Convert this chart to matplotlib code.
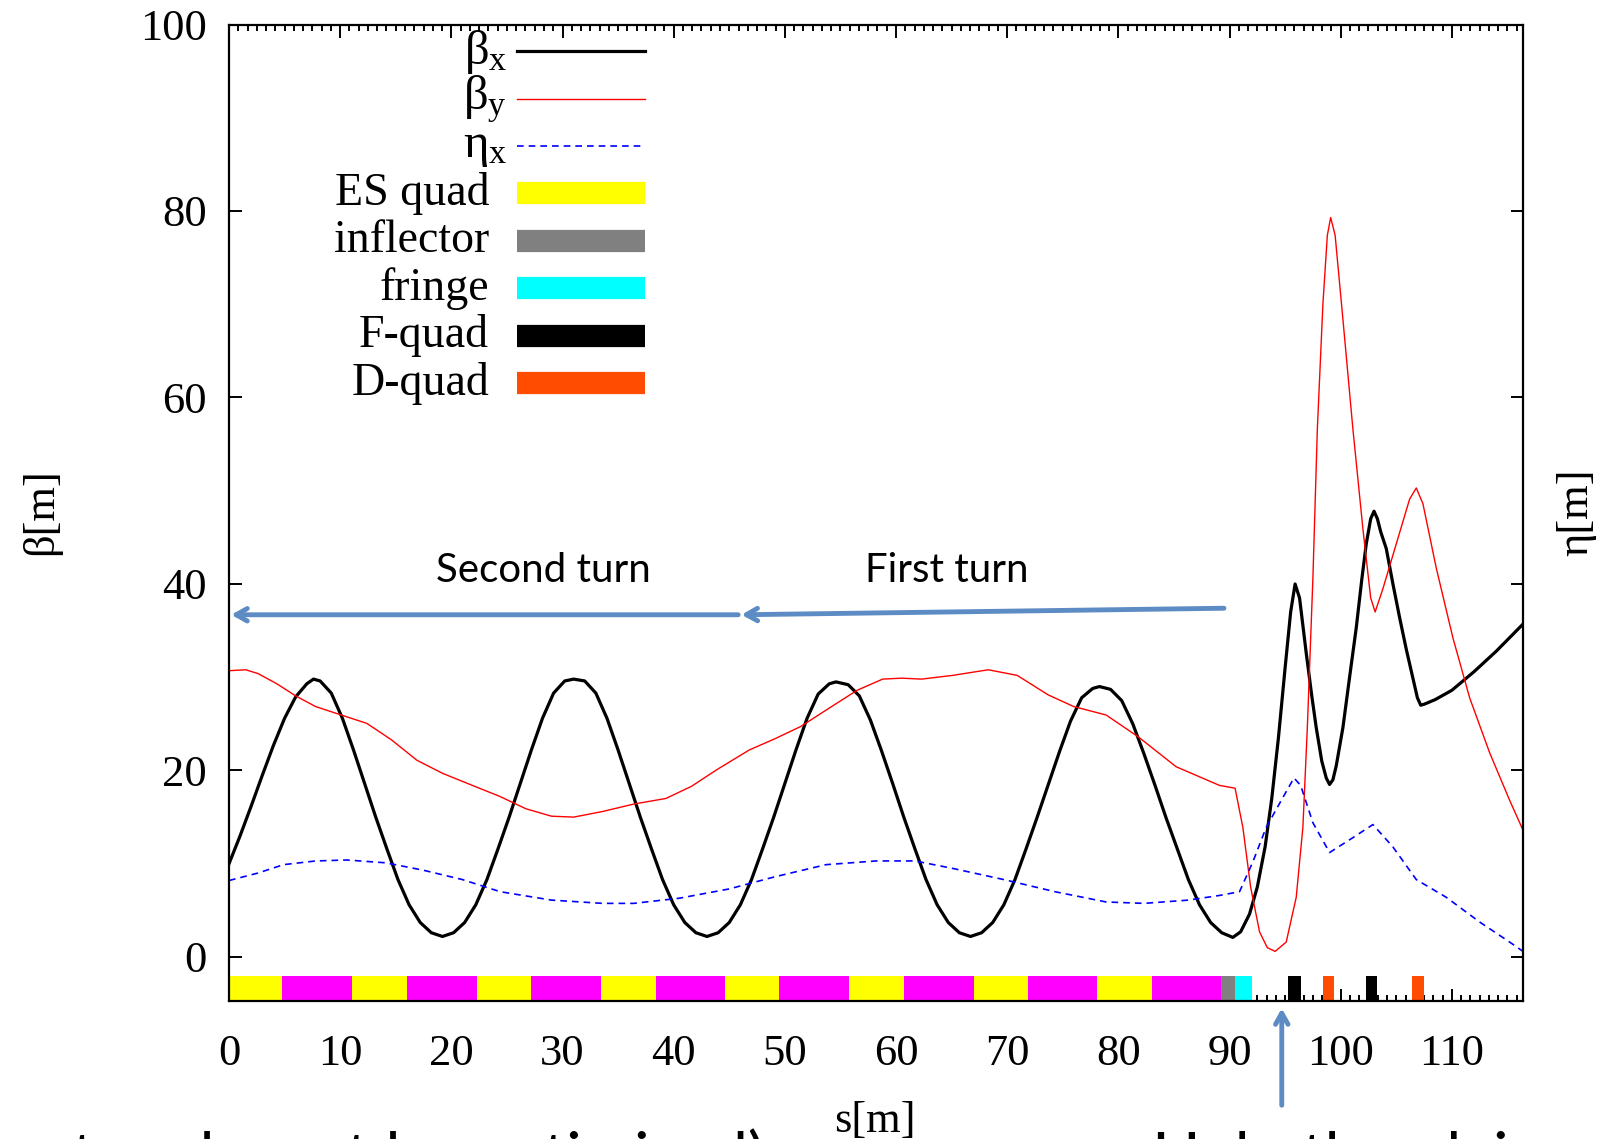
import matplotlib
matplotlib.use("Agg")
import matplotlib.pyplot as plt
from matplotlib.ticker import MultipleLocator, AutoMinorLocator

plt.rcParams['font.family'] = ['Liberation Serif', 'DejaVu Serif']
plt.rcParams['mathtext.fontset'] = 'custom'
plt.rcParams['mathtext.rm'] = 'Liberation Serif'
plt.rcParams['mathtext.it'] = 'Liberation Serif'

# ---- optics ----
bx_s = [0, 1, 2, 3, 4, 5, 6, 7, 7.6, 8.2, 9.2, 10.2, 11.2, 12.2, 13.2, 14.2, 15.2, 16.2, 17.2, 18.2, 19.2,
        20.2, 21.2, 22.2, 23.2, 24.2, 25.2, 26.2, 27.2, 28.2, 29.2, 30.2, 31.0,
        32, 33, 34, 35, 36, 37, 38, 39, 40, 41, 42, 43,
        44, 45, 46, 47, 48, 49, 50, 51, 52, 53, 54.0, 54.6,
        55.7, 56.7, 57.7, 58.7, 59.7, 60.7, 61.7, 62.7, 63.7, 64.7, 65.7, 66.7,
        67.7, 68.7, 69.7, 70.7, 71.7, 72.7, 73.7, 74.7, 75.7, 76.7, 77.7, 78.3,
        79.3, 80.3, 81.3, 82.3, 83.3, 84.3, 85.3, 86.3, 87.3, 88.3, 89.3, 90.3,
        91.0, 91.8, 92.5, 93.2, 93.8, 94.4, 95.0, 95.5, 95.9, 96.3, 96.9, 97.4, 97.8, 98.3, 98.7, 99.0,
        99.3, 99.6, 100.2, 100.8, 101.4, 101.9, 102.3, 102.7, 103.0, 103.3, 103.6, 104.1, 104.7,
        105.3, 105.9, 106.5, 106.9, 107.2, 107.5, 108.5, 110, 112, 114, 116.4]
beta_x = [10.0, 13.0, 16.2, 19.5, 22.7, 25.6, 27.9, 29.3, 29.8, 29.6, 28.3, 25.6, 22.2, 18.6, 15.0, 11.6, 8.3, 5.6, 3.7, 2.6, 2.2,
          2.6, 3.7, 5.6, 8.3, 11.6, 15.0, 18.6, 22.2, 25.6, 28.3, 29.6, 29.8,
          29.6, 28.3, 25.6, 22.2, 18.6, 15.0, 11.6, 8.3, 5.6, 3.7, 2.6, 2.2,
          2.6, 3.7, 5.6, 8.3, 11.6, 15.0, 18.6, 22.2, 25.6, 28.2, 29.3, 29.5,
          29.2, 28.0, 25.4, 22.1, 18.6, 15.0, 11.6, 8.3, 5.6, 3.7, 2.6, 2.2,
          2.6, 3.7, 5.6, 8.3, 11.6, 15.0, 18.5, 22.0, 25.3, 27.8, 28.8, 29.0,
          28.7, 27.5, 25.0, 21.8, 18.4, 14.9, 11.6, 8.3, 5.6, 3.7, 2.6, 2.1,
          2.7, 4.6, 7.5, 11.8, 17.0, 23.5, 31.0, 37.0, 40.0, 38.5, 32.6, 28.0, 24.6, 21.0, 19.2, 18.5,
          19.0, 20.5, 24.6, 30.0, 35.3, 40.5, 44.3, 47.0, 47.8, 47.0, 45.6, 43.8, 40.0,
          36.4, 33.0, 29.9, 27.8, 27.0, 27.1, 27.6, 28.6, 30.6, 32.8, 35.7]

by_s = [0, 1.5, 2.6, 4.3, 6.0, 7.8, 10.1, 12.4, 14.6, 16.9, 19.2, 22.1, 24.4, 26.7, 29.0, 31.0, 33.6, 36.4,
        39.3, 41.6, 43.9, 46.8, 49.1, 51.4, 54.2, 56.5, 58.8, 60.5, 62.3, 65.1, 68.3, 70.9, 73.7, 76.0,
        78.9, 81.8, 85.2, 89.1, 90.5, 91.2, 91.9, 92.7, 93.4, 94.1, 95.1, 96.0, 96.6, 97.0, 97.5, 97.9,
        98.4, 98.8, 99.1, 99.5, 100.2, 101.1, 102.0, 102.7, 103.1, 103.8, 105.0, 106.2, 106.8, 107.4,
        108.6, 110.1, 111.6, 113.4, 115.2, 116.4]
beta_y = [30.7, 30.8, 30.4, 29.3, 28.0, 26.85, 25.95, 25.05, 23.3, 21.1, 19.7, 18.3, 17.2, 15.9, 15.1, 15.0, 15.6, 16.4,
          17.0, 18.3, 20.1, 22.2, 23.4, 24.7, 26.85, 28.6, 29.8, 29.9, 29.8, 30.2, 30.8, 30.2, 28.1, 26.85,
          25.95, 23.6, 20.4, 18.4, 18.1, 13.9, 7.5, 2.7, 1.0, 0.6, 1.6, 6.4, 13.9, 24.6, 40.6, 56.6,
          70.0, 77.4, 79.3, 77.4, 68.4, 56.6, 45.9, 38.5, 37.0, 39.5, 44.3, 49.1, 50.3, 48.6,
          41.7, 34.2, 27.8, 21.9, 16.8, 13.6]

eta_s = [0, 2.6, 4.9, 7.8, 10.6, 14.1, 17.5, 21.0, 24.4, 29.0, 33.6, 36.4, 40.5, 45.0, 49.1, 53.7, 58.2,
         61.7, 65.1, 69.7, 74.3, 78.9, 82.3, 86.3, 89.1, 90.9, 92.1, 93.3, 94.8, 95.8, 96.4, 97.5, 99.0,
         101.1, 102.9, 104.7, 106.8, 109.5, 112.5, 115.2, 116.4]
eta_x = [8.2, 9.0, 9.9, 10.3, 10.4, 10.1, 9.3, 8.3, 7.0, 6.1, 5.75, 5.75, 6.3, 7.3, 8.6, 9.9, 10.3,
         10.3, 9.5, 8.3, 7.0, 5.9, 5.75, 6.1, 6.6, 7.0, 10.2, 13.9, 17.1, 19.2, 18.4, 14.4, 11.2,
         12.8, 14.2, 11.8, 8.3, 6.4, 3.75, 1.6, 0.6]

# ---- lattice elements ----
elem_start = [0, 4.8, 11.1, 16.0, 22.3, 27.2, 33.5, 38.4, 44.65, 49.5, 55.8, 60.7, 67.0, 71.85, 78.1, 83.0,
              89.2, 90.5, 95.3, 98.4, 102.3, 106.4]
elem_end = [4.8, 11.1, 16.0, 22.3, 27.2, 33.5, 38.4, 44.65, 49.5, 55.8, 60.7, 67.0, 71.85, 78.1, 83.0, 89.2,
            90.5, 92.0, 96.4, 99.4, 103.3, 107.5]
elem_type = ['ES quad', 'bend'] * 8 + ['inflector', 'fringe', 'F-quad', 'D-quad', 'F-quad', 'D-quad']
legend_elems = ['ES quad', 'inflector', 'fringe', 'F-quad', 'D-quad']

elem_color = {'ES quad': '#FFFF00', 'bend': '#FF00FF', 'inflector': '#808080',
              'fringe': '#00FFFF', 'F-quad': '#000000', 'D-quad': '#FF4C00'}

ymin, ymax = -4.72, 100
bar_top = -2.0

fig = plt.figure(figsize=(16.05, 11.39), dpi=100)
ax = fig.add_axes([229 / 1605, 1 - 1001 / 1139, 1294 / 1605, 976.5 / 1139])

curve_styles = [dict(color='black', lw=2.3), dict(color='red', lw=1.0),
                dict(color='blue', lw=1.2, ls=(0, (4, 3)))]
ax.plot(bx_s, beta_x, zorder=4, **curve_styles[0])
ax.plot(by_s, beta_y, zorder=4, **curve_styles[1])
ax.plot(eta_s, eta_x, zorder=4, **curve_styles[2])

widths = [e - s for s, e in zip(elem_start, elem_end)]
ax.bar(elem_start, bar_top - ymin, width=widths, bottom=ymin, align='edge',
       color=[elem_color[t] for t in elem_type], linewidth=0, zorder=3)

ax.set_xlim(0, 116.4)
ax.set_ylim(ymin, ymax)
ax.xaxis.set_major_locator(MultipleLocator(10))
ax.xaxis.set_minor_locator(AutoMinorLocator(12))
ax.yaxis.set_major_locator(MultipleLocator(20))
ax.tick_params(which='both', direction='in', top=True, right=True, labelright=False, width=1.4)
ax.tick_params(which='major', length=9, labelsize=32)
ax.tick_params(which='minor', length=4.5)
ax.tick_params(axis='y', which='minor', left=False, right=False)
ax.tick_params(axis='x', pad=24)
ax.tick_params(axis='y', pad=16)
for sp in ax.spines.values():
    sp.set_linewidth(1.6)
    sp.set_zorder(5)

# key, right-aligned labels like gnuplot (sub-scripted ones stick out a bit)
key_labels = [r'$\beta_x$', r'$\beta_y$', r'$\eta_x$'] + legend_elems
key_styles = curve_styles + [dict(color=elem_color[t], lw=16, solid_capstyle='butt') for t in legend_elems]
row_top, row_step = 0.9727, 0.04857
for i, (lab, st) in enumerate(zip(key_labels, key_styles)):
    yk = row_top - i * row_step
    if i < 3:
        ax.text(0.2148, yk - 0.001, lab, transform=ax.transAxes, ha='right', va='center', fontsize=35)
    else:
        ax.text(0.201, yk, lab, transform=ax.transAxes, ha='right', va='center', fontsize=33)
    ax.plot([0.2226, 0.3215], [yk, yk], transform=ax.transAxes, clip_on=False, **st)

# annotations
arrow_c = '#5D8CC4'
aprops = dict(arrowstyle='->, head_length=0.8, head_width=0.45', color=arrow_c, lw=3.5,
              shrinkA=0, shrinkB=0)
ax.annotate('', xy=(46.1, 36.7), xytext=(89.5, 37.4), arrowprops=aprops)
ax.annotate('', xy=(0.2, 36.7), xytext=(45.8, 36.7), arrowprops=aprops)
ax.annotate('', xy=(94.7, -5.5), xytext=(94.7, -15.9), arrowprops=aprops, annotation_clip=False)
ax.text(28.3, 41.4, 'Second turn', ha='center', va='center', fontsize=29, family='Lato')
ax.text(64.6, 41.4, 'First turn', ha='center', va='center', fontsize=29, family='Lato')

fig.text(875 / 1605, 1 - 1121 / 1139, 's[m]', ha='center', va='center', fontsize=32)
fig.text(41 / 1605, 1 - 512 / 1139, 'β[m]', ha='center', va='center', rotation=90, fontsize=32)
fig.text(1576 / 1605, 1 - 512 / 1139, 'η[m]', ha='center', va='center', rotation=90, fontsize=32)

# slide text cut off at the bottom edge
fig.text(72 / 1605, -0.0345, 't and must be optimized)', fontsize=46, family='Lato', va='baseline')
fig.text(1152 / 1605, -0.0345, 'Help the plain', fontsize=46, family='Lato', va='baseline')

fig.savefig('out.png', dpi=100)
